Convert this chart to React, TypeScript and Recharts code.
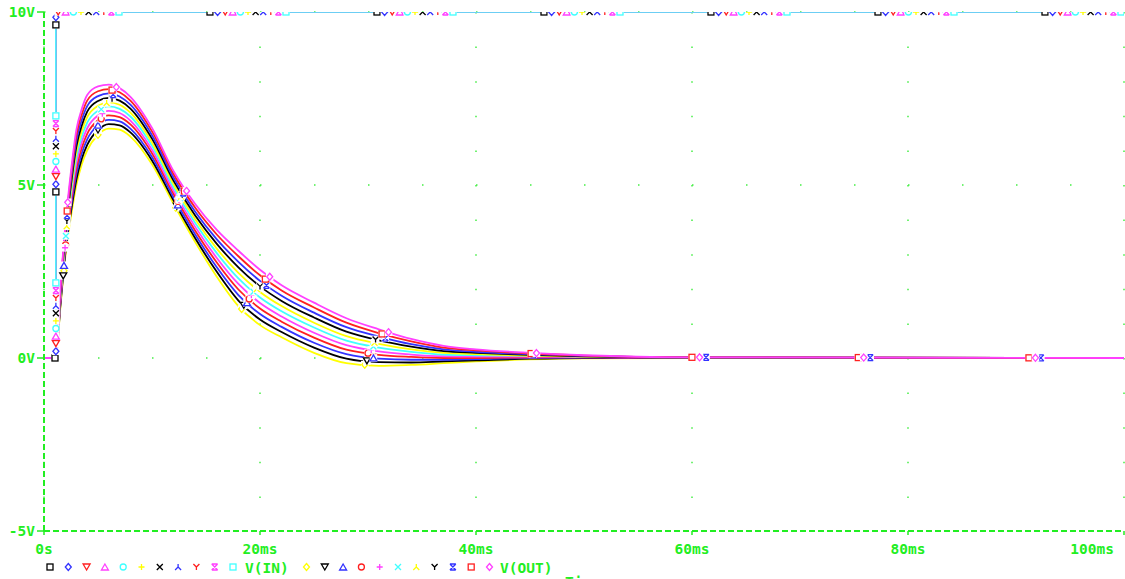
import React from "react";
import { LineChart, Line, XAxis, YAxis, CartesianGrid } from "recharts";

// time axis in ms
const timeMs = [0, 1.1, 1.5, 2, 2.5, 3, 3.5, 4, 5, 6, 7, 8, 10, 12, 14, 16, 18, 20, 22, 25, 28, 31, 34, 37, 40, 45, 50, 60, 100];

// input step (all 11 runs identical)
const vinTime = [0, 1.1, 1.1, 100];
const vinValues = [0, 0, 10, 10];

// V(OUT) for the 11 parameter runs, lowest peak first
const voutRuns = [
  [0, 0, 1.4, 3.0, 4.1, 5.0, 5.6, 6.0, 6.45, 6.63, 6.6, 6.4, 5.6, 4.45, 3.35, 2.35, 1.5, 0.95, 0.6, 0.15, -0.15, -0.23, -0.2, -0.15, -0.1, -0.04, -0.01, 0, 0],
  [0, 0, 1.46, 3.09, 4.23, 5.16, 5.76, 6.16, 6.59, 6.76, 6.72, 6.52, 5.71, 4.55, 3.46, 2.49, 1.66, 1.11, 0.75, 0.3, -0.02, -0.12, -0.13, -0.1, -0.07, -0.02, 0, 0, 0],
  [0, 0, 1.51, 3.18, 4.36, 5.32, 5.92, 6.32, 6.73, 6.88, 6.84, 6.63, 5.81, 4.64, 3.57, 2.62, 1.82, 1.27, 0.9, 0.44, 0.11, -0.02, -0.05, -0.05, -0.03, 0, 0.01, 0, 0],
  [0, 0, 1.57, 3.27, 4.49, 5.48, 6.08, 6.48, 6.87, 7.01, 6.96, 6.75, 5.92, 4.74, 3.68, 2.76, 1.98, 1.43, 1.05, 0.59, 0.24, 0.09, 0.03, 0, 0, 0.02, 0.02, 0.01, 0],
  [0, 0, 1.62, 3.36, 4.62, 5.64, 6.24, 6.64, 7.01, 7.14, 7.08, 6.86, 6.02, 4.83, 3.79, 2.89, 2.14, 1.59, 1.2, 0.73, 0.37, 0.19, 0.1, 0.05, 0.04, 0.04, 0.03, 0.01, 0],
  [0, 0, 1.68, 3.45, 4.75, 5.8, 6.4, 6.8, 7.15, 7.27, 7.2, 6.98, 6.13, 4.93, 3.9, 3.03, 2.3, 1.75, 1.35, 0.88, 0.5, 0.3, 0.18, 0.1, 0.08, 0.06, 0.04, 0.01, 0],
  [0, 0, 1.73, 3.54, 4.88, 5.96, 6.56, 6.96, 7.29, 7.39, 7.32, 7.09, 6.23, 5.02, 4.01, 3.16, 2.46, 1.91, 1.5, 1.02, 0.63, 0.41, 0.25, 0.15, 0.11, 0.07, 0.04, 0.01, 0],
  [0, 0, 1.79, 3.63, 5.01, 6.12, 6.72, 7.12, 7.43, 7.52, 7.44, 7.21, 6.34, 5.12, 4.12, 3.3, 2.62, 2.07, 1.65, 1.17, 0.76, 0.51, 0.33, 0.2, 0.15, 0.09, 0.05, 0.01, 0],
  [0, 0, 1.84, 3.72, 5.14, 6.28, 6.88, 7.28, 7.57, 7.65, 7.56, 7.32, 6.44, 5.21, 4.23, 3.43, 2.78, 2.23, 1.8, 1.31, 0.89, 0.62, 0.4, 0.25, 0.18, 0.11, 0.06, 0.02, 0],
  [0, 0, 1.9, 3.81, 5.27, 6.44, 7.04, 7.44, 7.71, 7.77, 7.68, 7.44, 6.55, 5.31, 4.34, 3.57, 2.94, 2.39, 1.95, 1.46, 1.02, 0.72, 0.48, 0.3, 0.22, 0.13, 0.07, 0.02, 0],
  [0, 0, 1.95, 3.9, 5.4, 6.6, 7.2, 7.6, 7.85, 7.9, 7.8, 7.55, 6.65, 5.4, 4.45, 3.7, 3.1, 2.55, 2.1, 1.6, 1.15, 0.83, 0.55, 0.35, 0.25, 0.15, 0.08, 0.02, 0],
];

// where the probe symbols sit on each V(OUT) run (ms)
const voutMarkerTimes = [
  [1.85, 5.0, 12.2, 18.3, 29.7],
  [1.78, 5.0, 12.3, 18.5, 29.9],
  [1.85, 5.0, 12.4, 18.8, 30.5],
  [2.0, 5.3, 12.4, 19.0, 30.0],
  [1.95, 5.4, 12.5, 19.2, 30.3],
  [2.03, 5.3, 12.6, 19.4, 30.5],
  [2.1, 5.8, 12.7, 19.7, 30.6],
  [2.12, 6.3, 12.8, 20.0, 30.7],
  [2.14, 6.4, 12.9, 20.6, 31.6, 45.3, 61.3, 76.5, 92.3],
  [2.15, 6.3, 13.0, 20.5, 31.3, 45.1, 60.0, 75.4, 91.2],
  [2.2, 6.7, 13.2, 20.9, 31.9, 45.6, 60.7, 75.9, 91.8],
];

const xTicks = [0, 20, 40, 60, 80, 100];
const xTickLabels = ["0s", "20ms", "40ms", "60ms", "80ms", "100ms"];
const yTicks = [-5, 0, 5, 10];
const yTickLabels = ["-5V", "0V", "5V", "10V"];

// pspice trace cycles
const traceColors = ["#000000", "#3333ff", "#ff2020", "#ff40ff", "#40ffff", "#ffff00"];
const traceSymbols = ["square", "diamond", "tridown", "triup", "circle", "plus", "cross", "lambda", "wye", "hourglass"];

const GREEN = "#22ee22";
const FONT = "'DejaVu Sans Mono', monospace";
const RUNS = 11;

const vinData = vinTime.map((t, i) => ({ t, v: vinValues[i] }));
const voutData = voutRuns.map((run) => run.map((v, i) => ({ t: timeMs[i], v })));

type Pt = { x: number; y: number; t: number };

const Marker = ({ kind, x, y, color }: { kind: string; x: number; y: number; color: string }) => {
  const h = 3;
  let shape: React.ReactNode = null;
  const p = { fill: "none", stroke: color, strokeWidth: 1.3 };
  switch (kind) {
    case "square":
      shape = <rect x={x - h} y={y - h} width={2 * h} height={2 * h} {...p} />;
      break;
    case "diamond":
      shape = <polygon points={`${x},${y - h - 0.5} ${x + h},${y} ${x},${y + h + 0.5} ${x - h},${y}`} {...p} />;
      break;
    case "tridown":
      shape = <polygon points={`${x - h - 0.5},${y - h} ${x + h + 0.5},${y - h} ${x},${y + h}`} {...p} />;
      break;
    case "triup":
      shape = <polygon points={`${x},${y - h} ${x + h + 0.5},${y + h} ${x - h - 0.5},${y + h}`} {...p} />;
      break;
    case "circle":
      shape = <circle cx={x} cy={y} r={h} {...p} />;
      break;
    case "plus":
      shape = <path d={`M${x - h},${y}L${x + h},${y}M${x},${y - h}L${x},${y + h}`} {...p} />;
      break;
    case "cross":
      shape = <path d={`M${x - h},${y - h}L${x + h},${y + h}M${x + h},${y - h}L${x - h},${y + h}`} {...p} />;
      break;
    case "lambda":
      shape = <path d={`M${x},${y - h}L${x},${y}L${x - h},${y + h}M${x},${y}L${x + h},${y + h}`} {...p} />;
      break;
    case "wye":
      shape = <path d={`M${x - h},${y - h}L${x},${y}L${x + h},${y - h}M${x},${y}L${x},${y + h}`} {...p} />;
      break;
    default:
      shape = (
        <path
          d={`M${x - h},${y - h}L${x + h},${y - h}M${x - h},${y + h}L${x + h},${y + h}M${x - h},${y - h}L${x + h},${y + h}M${x + h},${y - h}L${x - h},${y + h}`}
          {...p}
        />
      );
  }
  return (
    <g>
      <rect x={x - 3.8} y={y - 3.8} width={7.6} height={7.6} fill="#fff" />
      {shape}
    </g>
  );
};

// V(IN): symbols spaced along the drawn path
const spotsAlong = (pts: Pt[], offset: number, period: number) => {
  const out: { x: number; y: number }[] = [];
  let acc = 0;
  let next = offset;
  for (let i = 1; i < pts.length; i++) {
    const a = pts[i - 1];
    const b = pts[i];
    const seg = Math.hypot(b.x - a.x, b.y - a.y);
    while (next <= acc + seg) {
      const f = seg ? (next - acc) / seg : 0;
      out.push({ x: a.x + (b.x - a.x) * f, y: a.y + (b.y - a.y) * f });
      next += period;
    }
    acc += seg;
  }
  return out;
};

// V(OUT): symbols at given times, placed on the rendered points
const spotsAt = (pts: Pt[], times: number[]) =>
  times.map((tm) => {
    let i = 1;
    while (i < pts.length - 1 && pts[i].t < tm) i++;
    const a = pts[i - 1];
    const b = pts[i];
    const f = b.t === a.t ? 0 : (tm - a.t) / (b.t - a.t);
    return { x: a.x + (b.x - a.x) * f, y: a.y + (b.y - a.y) * f };
  });

const markerDot = (trace: number, count: number, place: (pts: Pt[]) => { x: number; y: number }[]) => {
  const seen: Pt[] = [];
  return (props: any) => {
    const { index, cx, cy, payload } = props;
    if (index === 0) seen.length = 0;
    seen.push({ x: cx, y: cy, t: payload.t });
    if (index !== count - 1) return <g key={`d-${trace}-${index}`} />;
    const spots = place(seen);
    const kind = traceSymbols[trace % traceSymbols.length];
    const color = traceColors[trace % traceColors.length];
    return (
      <g key={`d-${trace}-${index}`}>
        {spots.map((s, i) => (
          <Marker key={i} kind={kind} x={s.x} y={s.y} color={color} />
        ))}
      </g>
    );
  };
};

const XTick = (props: any) => {
  const { x, y, payload } = props;
  const i = xTicks.indexOf(payload.value);
  const last = i === xTicks.length - 1;
  return (
    <text x={last ? x + 1 : x} y={y + 17} textAnchor={last ? "end" : "middle"} fill={GREEN} fontSize={14.5} fontWeight="bold" fontFamily={FONT}>
      {xTickLabels[i]}
    </text>
  );
};

const YTick = (props: any) => {
  const { x, y, payload } = props;
  const i = yTicks.indexOf(payload.value);
  return (
    <text x={x} y={y + 5} textAnchor="end" fill={GREEN} fontSize={14.5} fontWeight="bold" fontFamily={FONT}>
      {yTickLabels[i]}
    </text>
  );
};

const Legend = () => {
  const group = (start: number, first: number, label: string, textX: number) => (
    <g>
      {Array.from({ length: RUNS }, (_, k) => (
        <Marker
          key={k}
          kind={traceSymbols[(first + k) % traceSymbols.length]}
          x={start + k * 18.3}
          y={567}
          color={traceColors[(first + k) % traceColors.length]}
        />
      ))}
      <text x={textX} y={573} fill={GREEN} fontSize={14.5} fontWeight="bold" fontFamily={FONT}>
        {label}
      </text>
    </g>
  );
  return (
    <svg width={1125} height={579} style={{ position: "absolute", left: 0, top: 0, pointerEvents: "none" }}>
      {group(50, 0, "V(IN)", 245)}
      {group(306.5, RUNS, "V(OUT)", 500)}
      <text x={565} y={587} fill={GREEN} fontSize={14.5} fontWeight="bold" fontFamily={FONT}>
        Time
      </text>
    </svg>
  );
};

export default function App() {
  return (
    <div style={{ position: "absolute", left: 0, top: 0, width: 1125, height: 579, background: "#fff" }}>
      <LineChart width={1125} height={579} margin={{ top: 12, right: 1, left: 0, bottom: 0 }}>
        <CartesianGrid horizontal={false} stroke="#44ee44" strokeWidth={1.5} strokeDasharray="1.5 33.1" />
        <CartesianGrid vertical={false} stroke="#44ee44" strokeWidth={1.5} strokeDasharray="1.5 52.5" />
        <XAxis
          type="number"
          dataKey="t"
          domain={[0, 100]}
          ticks={xTicks}
          height={48}
          allowDataOverflow
          axisLine={{ stroke: GREEN, strokeWidth: 2, strokeDasharray: "6 3" }}
          tickLine={{ stroke: GREEN, strokeWidth: 1.5 }}
          tickSize={4}
          tickMargin={2}
          tick={<XTick />}
        />
        <YAxis
          type="number"
          domain={[-5, 10]}
          ticks={yTicks}
          width={44}
          allowDataOverflow
          axisLine={{ stroke: GREEN, strokeWidth: 2, strokeDasharray: "6 3" }}
          tickLine={{ stroke: GREEN, strokeWidth: 1.5 }}
          tickSize={7}
          tickMargin={2}
          tick={<YTick />}
        />
        {Array.from({ length: RUNS }, (_, k) => (
          <Line key={`in-${k}`} data={vinData} dataKey="v" type="linear" stroke={traceColors[k % 6]} strokeWidth={1.6} dot={false} activeDot={false} isAnimationActive={false} />
        ))}
        {voutData.map((d, j) => (
          <Line key={`out-${j}`} data={d} dataKey="v" type="monotone" stroke={traceColors[(RUNS + j) % 6]} strokeWidth={1.8} dot={false} activeDot={false} isAnimationActive={false} />
        ))}
        {Array.from({ length: RUNS }, (_, k) => (
          <Line
            key={`inm-${k}`}
            data={vinData}
            dataKey="v"
            type="linear"
            stroke="none"
            dot={markerDot(k, vinData.length, (pts) => spotsAlong(pts, 11 + k * 7.6, 167))}
            activeDot={false}
            isAnimationActive={false}
          />
        ))}
        {voutData.map((d, j) => (
          <Line
            key={`outm-${j}`}
            data={d}
            dataKey="v"
            type="monotone"
            stroke="none"
            dot={markerDot(RUNS + j, d.length, (pts) => spotsAt(pts, voutMarkerTimes[j]))}
            activeDot={false}
            isAnimationActive={false}
          />
        ))}
      </LineChart>
      <Legend />
    </div>
  );
}
